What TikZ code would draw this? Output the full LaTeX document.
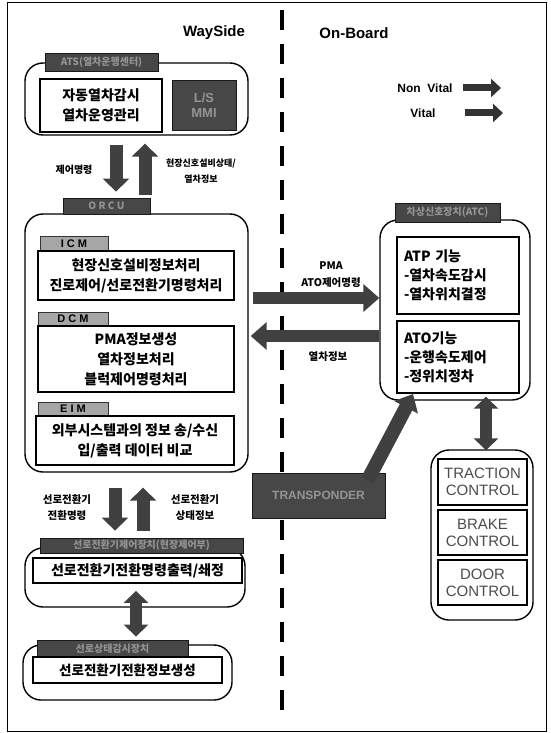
\documentclass[tikz,border=0pt]{standalone}
\usepackage{fontspec}
\setmainfont{Noto Sans CJK KR}
\newfontfamily\lat{Liberation Sans}
\usetikzlibrary{arrows.meta}
\begin{document}
\begin{tikzpicture}[x=1pt,y=-1pt,
  rbox/.style={draw, line width=1.4pt, rounded corners=18pt, inner sep=0pt},
  ibox/.style={draw, line width=1.8pt, fill=white, inner sep=0pt, align=center, font=\fontsize{14}{20}\selectfont\bfseries},
  lbox/.style={draw, line width=1.8pt, fill=white, inner sep=0pt, align=left, font=\fontsize{14}{19}\selectfont\bfseries},
  lab/.style={draw=black!90, line width=0.8pt, fill=black!72, text=black!42, inner sep=0pt, font=\fontsize{10}{11}\selectfont\bfseries},
  sublab/.style={draw=black!80, line width=0.8pt, fill=black!35, text=black, inner sep=0pt, font=\lat\fontsize{11}{11}\selectfont\bfseries},
  note/.style={align=center, font=\fontsize{10}{13}\selectfont\bfseries, inner sep=0pt},
  ctl/.style={draw, line width=1.6pt, fill=white, inner sep=0pt, align=center, text=black!70, font=\lat\fontsize{15}{17}\selectfont},
  varrow/.style={black!75, line width=13pt, -{Triangle[length=13pt,width=26pt]}},
  harrow/.style={black!75, line width=12pt, -{Triangle[length=16pt,width=27pt]}},
  dblarrow/.style={black!75, line width=12pt, {Triangle[length=12pt,width=24pt]}-{Triangle[length=12pt,width=24pt]}},
  legarrow/.style={black!80, line width=7pt, -{Triangle[length=10pt,width=18pt]}},
  sidehead/.style={font=\lat\fontsize{15}{16}\selectfont\bfseries, inner sep=0pt}
]
\useasboundingbox (0,0) rectangle (551,733);
\draw[line width=1pt] (7,3) rectangle (546,731);

% divider
\coordinate (dtop) at (282,10);
\coordinate (dbot) at (282,713);
\draw[line width=4pt, dash pattern=on 20pt off 14pt] (dtop) -- (dbot);

\node[sidehead] (ws) at (214,33) {WaySide};
\node[sidehead] (onb) at (354,33) {On-Board};

% legend
\node[font=\lat\fontsize{12}{13}\selectfont\bfseries, inner sep=0pt] (nv) at (425,88) {Non\ \ Vital};
\node[font=\lat\fontsize{12}{13}\selectfont\bfseries, inner sep=0pt] (vt) at (423,113) {Vital};
\coordinate (nvs) at (463,88); \coordinate (nve) at (501,88);
\coordinate (vts) at (465,113); \coordinate (vte) at (503,113);
\draw[legarrow] (nvs) -- (nve);
\draw[legarrow] (vts) -- (vte);

% ATS
\node[rbox, minimum width=223pt, minimum height=72pt] (ats) at (136.5,99) {};
\node[lab, minimum width=113pt, minimum height=18pt] (atslab) at (101.5,62) {ATS(열차운행센터)};
\node[ibox, minimum width=122pt, minimum height=53pt] (atsin) at (101,105.5) {자동열차감시\\열차운영관리};
\node[lab, minimum width=64pt, minimum height=50pt, align=center, font=\lat\fontsize{13}{15}\selectfont\bfseries] (mmi) at (204,105) {L/S\\MMI};

% ORC
\node[rbox, minimum width=223pt, minimum height=258pt] (orc) at (136.5,343) {};
\node[lab, minimum width=87pt, minimum height=16pt] (orclab) at (106.5,206) {O R C U};
\node[sublab, minimum width=68pt, minimum height=15pt] (icmlab) at (74,243.5) {I C M};
\node[ibox, minimum width=196pt, minimum height=49pt] (icm) at (136,275.5) {현장신호설비정보처리\\진로제어/선로전환기명령처리};
\node[sublab, minimum width=70pt, minimum height=14pt] (dcmlab) at (73,319) {D C M};
\node[ibox, minimum width=196pt, minimum height=66pt] (dcm) at (136,359) {PMA정보생성\\열차정보처리\\블럭제어명령처리};
\node[sublab, minimum width=70pt, minimum height=14pt] (eimlab) at (73,409) {E I M};
\node[ibox, minimum width=198pt, minimum height=49pt] (eim) at (135,440.5) {외부시스템과의\ 정보\ 송/수신\\입/출력\ 데이터\ 비교};

% ATS <-> ORC arrows
\coordinate (xa) at (116,0); \coordinate (xb) at (145,0);
\draw[varrow] ([yshift=-9pt]ats.south -| xa) -- ([yshift=6pt]orclab.north -| xa);
\draw[varrow] ([yshift=3pt]orclab.north -| xb) -- ([yshift=-8pt]ats.south -| xb);
\node[note] (n1) at (74,170) {제어명령};
\node[note, font=\fontsize{9}{16}\selectfont\bfseries] (n2) at (201,171) {현장신호설비상태/\\열차정보};

% On-board
\node[rbox, minimum width=150pt, minimum height=180pt] (ob) at (455,310) {};
\node[lab, minimum width=105pt, minimum height=19pt] (oblab) at (447.5,212.5) {차상신호장치(ATC)};
\node[lbox, minimum width=122pt, minimum height=77pt, text width=108pt] (atp) at (458,275.5) {ATP 기능\\-열차속도감시\\-열차위치결정};
\node[lbox, minimum width=122pt, minimum height=72pt, text width=108pt] (ato) at (458,357) {ATO기능\\-운행속도제어\\-정위치정차};

% horizontal arrows
\coordinate (yr) at (0,298); \coordinate (yl) at (0,336);
\draw[harrow] ([xshift=4pt]orc.east |- yr) -- (ob.west |- yr);
\draw[harrow] (ob.west |- yl) -- ([xshift=2pt]orc.east |- yl);
\node[note, font=\fontsize{10.5}{17}\selectfont\bfseries] (n3) at (331,274.5) {PMA\\ATO제어명령};
\node[note, font=\fontsize{10.5}{12}\selectfont\bfseries] (n4) at (328,357) {열차정보};

% Traction etc.
\node[rbox, minimum width=102pt, minimum height=170pt] (trac) at (482,535) {};
\node[ctl, minimum width=89pt, minimum height=46pt] (tc) at (482.5,482) {TRACTION\\CONTROL};
\node[ctl, minimum width=89pt, minimum height=45pt] (bc) at (482.5,532.5) {BRAKE\\CONTROL};
\node[ctl, minimum width=89pt, minimum height=45pt] (dc) at (482.5,582.5) {DOOR\\CONTROL};
\coordinate (xd) at (486,0);
\draw[dblarrow] ([yshift=4pt]ob.south -| xd) -- ([yshift=-1pt]trac.north -| xd);

% Transponder
\node[lab, minimum width=133pt, minimum height=45pt, font=\lat\fontsize{12}{13}\selectfont\bfseries] (trans) at (318.5,495.5) {TRANSPONDER};
\coordinate (ttip) at (413,394);
\draw[black!75, line width=14pt, -{Triangle[length=15pt,width=26pt]}] ([xshift=-18pt,yshift=-8pt]trans.north east) -- (ttip);

% Box 4
\node[rbox, minimum width=220pt, minimum height=59pt] (b4) at (135,577.5) {};
\node[lab, minimum width=203pt, minimum height=15pt] (b4lab) at (141.5,545.5) {선로전환기제어장치(현장제어부)};
\node[ibox, minimum width=209pt, minimum height=25pt] (b4in) at (137.5,570.5) {선로전환기전환명령출력/쇄정};

\coordinate (xa2) at (115,0); \coordinate (xb2) at (143,0);
\draw[varrow] ([yshift=-15pt]orc.south -| xa2) -- ([yshift=7pt]b4lab.north -| xa2);
\draw[varrow] ([yshift=7pt]b4lab.north -| xb2) -- ([yshift=-15pt]orc.south -| xb2);
\node[note, font=\fontsize{10.5}{16}\selectfont\bfseries] (n5) at (67,508) {선로전환기\\전환명령};
\node[note, font=\fontsize{10.5}{16}\selectfont\bfseries] (n6) at (195,508) {선로전환기\\상태정보};

% Box 5
\node[rbox, minimum width=209pt, minimum height=55pt] (b5) at (127.5,672.5) {};
\node[lab, minimum width=151pt, minimum height=17pt] (b5lab) at (112.5,648.5) {선로상태감시장치};
\node[ibox, minimum width=189pt, minimum height=26pt, font=\fontsize{13.5}{15}\selectfont\bfseries] (b5in) at (127.5,670) {선로전환기전환정보생성};

\coordinate (xc) at (136,0);
\draw[dblarrow] ([yshift=-7pt]b4in.south -| xc) -- ([yshift=3pt]b5lab.north -| xc);
\end{tikzpicture}
\end{document}
